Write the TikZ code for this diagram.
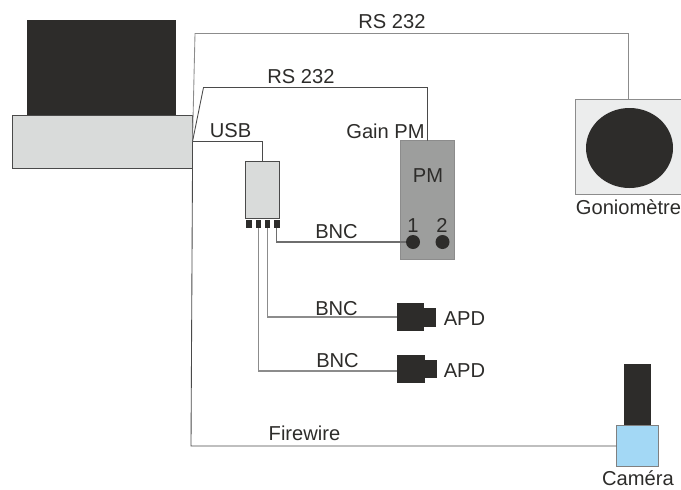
\documentclass[tikz,border=0pt]{standalone}
\usepackage{fontspec}
\usetikzlibrary{shapes.geometric}
\setmainfont{Liberation Sans}
\definecolor{ink}{HTML}{2D2C2A}
\definecolor{wire}{HTML}{4A4A4A}
\definecolor{softwire}{HTML}{8C8C8C}
\definecolor{paleg}{HTML}{D9DBDA}
\definecolor{midg}{HTML}{9D9E9D}
\definecolor{lightg}{HTML}{ECEDED}
\definecolor{camblue}{HTML}{A3D8F5}
\tikzset{
  box/.style 2 args={rectangle,inner sep=0pt,outer sep=0pt,minimum width=#1*0.75pt,minimum height=#2*0.75pt},
  blackbox/.style 2 args={box={#1}{#2},fill=ink},
  wirebox/.style={draw=wire,line width=0.6pt},
  softbox/.style={draw=softwire,line width=0.6pt},
  conn/.style={draw=wire,line width=0.65pt},
  softconn/.style={draw=softwire,line width=0.9pt},
  lab/.style={anchor=base,inner sep=0pt,outer sep=0pt,text=ink,font=\fontsize{15.1pt}{16pt}\selectfont},
  dot/.style={circle,inner sep=0pt,outer sep=0pt,minimum size=10.5pt,fill=ink}
}
\begin{document}
\begin{tikzpicture}[x=0.75pt,y=-0.75pt]
\useasboundingbox (0,0) rectangle (681,489);
% computer
\node[blackbox={149}{95}] (screen) at (101.5,67.5) {};
\node[box={180}{53},fill=paleg,wirebox] (base) at (102.5,141.5) {};
% goniometer
\node[box={106}{95},fill=lightg,softbox] (gonio) at (628.5,146.5) {};
\node[ellipse,inner sep=0pt,outer sep=0pt,minimum width=65.25pt,minimum height=60pt,fill=ink] (disc) at (629.5,148) {};
% interface box
\node[box={34}{56.5},fill=paleg,wirebox] (usbbox) at (262.5,189.75) {};
\node[blackbox={5.8}{8.5}] (p1) at (249,223.75) {};
\node[blackbox={5.8}{8.5}] (p2) at (258.5,223.75) {};
\node[blackbox={5.8}{8.5}] (p3) at (267.5,223.75) {};
\node[blackbox={5.8}{8.5}] (p4) at (276.8,223.75) {};
% PM
\node[box={54}{118.5},fill=midg,softbox] (pm) at (427.5,199.75) {};
\node[dot] (pmone) at (413,242) {};
\node[dot] (pmtwo) at (442.5,242) {};
% APDs
\node[blackbox={27.5}{28}] (apdone) at (410.5,317) {};
\node[blackbox={12}{19},anchor=west] (apdonetip) at (apdone.east) {};
\node[blackbox={27.5}{28}] (apdtwo) at (411,369) {};
\node[blackbox={12}{18},anchor=west] (apdtwotip) at (apdtwo.east) {};
% camera
\node[blackbox={27.5}{62}] (lens) at (637.5,395) {};
\node[box={42.5}{40.5},fill=camblue,draw=wire!70,line width=0.6pt] (cam) at (637.5,446) {};
% waypoints
\coordinate (topbend) at (195,33.5);
\coordinate (midbend) at (203.5,87.5);
\coordinate (fwbend) at (191,446);
\coordinate (hub) at (base.east);
\coordinate (apdtwoin) at (397.25,371);
% connectors
\draw[conn,draw=softwire] (hub) -- (topbend) -- (gonio.north |- topbend) -- (gonio.north);
\draw[conn] (hub) -- (midbend) -| (pm.north);
\draw[conn] (hub) -| (usbbox.north);
\draw[conn] (base.south east) -- (fwbend) -- (cam.west);
\draw[softconn,draw=wire!80] (p4.south) |- (pmone.west);
\draw[softconn] (p3.south) |- (apdone.west);
\draw[softconn] (p2.south) |- (apdtwoin);
% labels
\node[lab] (l1) at (392,28) {RS 232};
\node[lab] (l2) at (301,83.5) {RS 232};
\node[lab] (l3) at (230.5,137) {USB};
\node[lab] (l4) at (385.5,138) {Gain PM};
\node[lab] (l5) at (428,182.5) {PM};
\node[lab] (l6) at (413,232) {1};
\node[lab] (l7) at (442,232) {2};
\node[lab] (l8) at (336.5,238) {BNC};
\node[lab] (l9) at (336.5,315) {BNC};
\node[lab] (l10) at (337.5,367) {BNC};
\node[lab] (l11) at (464.5,325) {APD};
\node[lab] (l12) at (464.5,377) {APD};
\node[lab] (l13) at (628.5,214) {Goniomètre};
\node[lab] (l14) at (638,485) {Caméra};
\node[lab] (l15) at (304.5,440) {Firewire};
\end{tikzpicture}
\end{document}
